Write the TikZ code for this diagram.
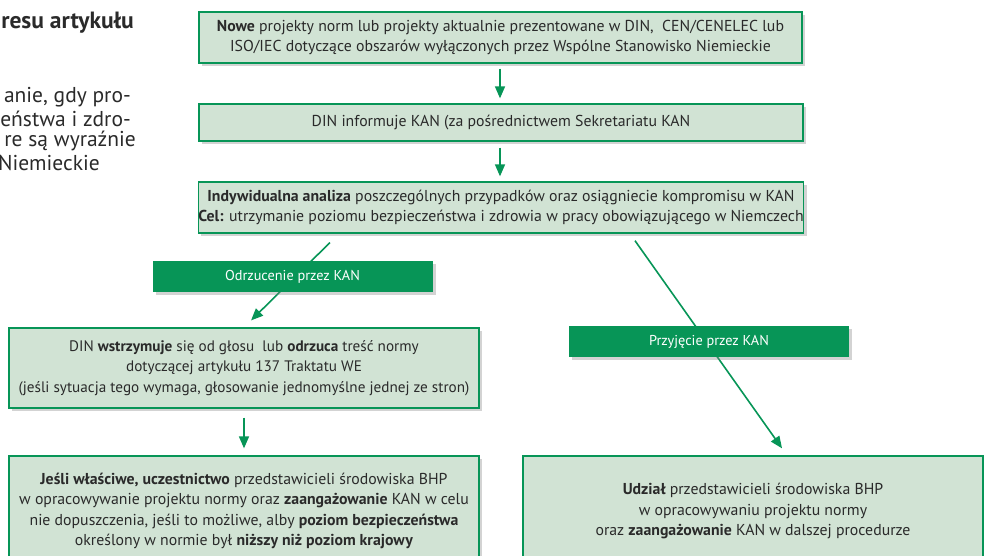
\documentclass[tikz,border=0pt]{standalone}
\usepackage{fontspec}
\setmainfont{PT Sans}
\usetikzlibrary{arrows.meta,shadows}
\definecolor{kangreen}{HTML}{079557}
\definecolor{kanfill}{HTML}{D1E3D4}
\definecolor{kantext}{HTML}{2A2A2A}
\tikzset{
  kanbox/.style={draw=kangreen, line width=1.3pt, fill=kanfill, text=kantext, align=center, inner sep=0pt,
    font=\fontsize{15.8}{20.5}\selectfont, drop shadow={shadow xshift=3pt, shadow yshift=-3pt, opacity=0.35}},
  kanlabel/.style={fill=kangreen, text=white, inner sep=0pt, minimum width=280pt, minimum height=31pt,
    font=\fontsize{14.3}{17}\selectfont, drop shadow={shadow xshift=3pt, shadow yshift=-3pt, opacity=0.35}},
  kanarrow/.style={draw=kangreen, line width=1.6pt, -{Triangle[width=10pt,length=12pt]}},
  pagetext/.style={text=kantext, inner sep=0pt, font=\fontsize{21.5}{22}\selectfont}
}
\begin{document}
\begin{tikzpicture}[x=1pt,y=-1pt]
\useasboundingbox (0,0) rectangle (984,555);
\clip (0,0) rectangle (984,555);

\node[pagetext, anchor=east, font=\fontsize{23.5}{22}\selectfont\bfseries] (head) at (134,23) {resu artykułu};
\node[pagetext, anchor=east] (par1) at (131,97) {anie, gdy pro-};
\node[pagetext, anchor=east] (par2) at (131,119) {eństwa i zdro-};
\node[pagetext, anchor=east] (par3) at (136,141) {re są wyraźnie};
\node[pagetext, anchor=east] (par4) at (100,163) {Niemieckie};

\node[kanbox, minimum width=603pt, minimum height=51pt] (nowe) at (500.5,37.5)
  {\textbf{Nowe} projekty norm lub projekty aktualnie prezentowane w DIN,\ \ CEN/CENELEC lub\\
   ISO/IEC dotyczące obszarów wyłączonych przez Wspólne Stanowisko Niemieckie};
\node[kanbox, minimum width=604pt, minimum height=37pt] (info) at (501,122.5)
  {DIN informuje KAN (za pośrednictwem Sekretariatu KAN};
\node[kanbox, minimum width=604pt, minimum height=51pt] (analiza) at (501,207.5)
  {\textbf{Indywidualna analiza} poszczególnych przypadków oraz osiągniecie kompromisu w KAN\\
   \textbf{Cel:} utrzymanie poziomu bezpieczeństwa i zdrowia w pracy obowiązującego w Niemczech};
\node[kanbox, minimum width=470pt, minimum height=80pt, font=\fontsize{15.2}{20.5}\selectfont] (wstrz) at (244,368)
  {DIN \textbf{wstrzymuje} się od głosu\ \ lub \textbf{odrzuca} treść normy\\
   dotyczącej artykułu 137 Traktatu WE\\
   (jeśli sytuacja tego wymaga, głosowanie jednomyślne jednej ze stron)};
\node[kanbox, minimum width=470pt, minimum height=110pt] (jesli) at (244,511)
  {\textbf{Jeśli właściwe, uczestnictwo} przedstawicieli środowiska BHP\\
   w opracowywanie projektu normy oraz \textbf{zaangażowanie} KAN w celu\\
   nie dopuszczenia, jeśli to możliwe, alby \textbf{poziom bezpieczeństwa}\\
   określony w normie był \textbf{niższy niż poziom krajowy}};
\node[kanbox, minimum width=460pt, minimum height=110pt] (udzial) at (753,511)
  {\textbf{Udział} przedstawicieli środowiska BHP\\
   w opracowywaniu projektu normy\\
   oraz \textbf{zaangażowanie} KAN w dalszej procedurze};

\draw[kanarrow, shorten <=5pt, shorten >=5pt] ([xshift=-0.5pt]nowe.south) -- ([xshift=-1pt]info.north);
\draw[kanarrow, shorten <=6pt, shorten >=5pt] ([xshift=-1pt]info.south) -- ([xshift=-1pt]analiza.north);
\draw[kanarrow, shorten <=12.7pt, shorten >=9.9pt] ([xshift=-162pt]analiza.south) -- (wstrz.north);
\draw[kanarrow, shorten <=8.6pt, shorten >=8.6pt] ([xshift=129pt]analiza.south) -- ([xshift=34pt]udzial.north);
\draw[kanarrow, shorten <=9pt, shorten >=7pt] (wstrz.south) -- (jesli.north);

\node[kanlabel] (odrz) at (292.5,276.5) {Odrzucenie przez KAN};
\node[kanlabel] (przyj) at (709,341.5) {Przyjęcie przez KAN};
\end{tikzpicture}
\end{document}
